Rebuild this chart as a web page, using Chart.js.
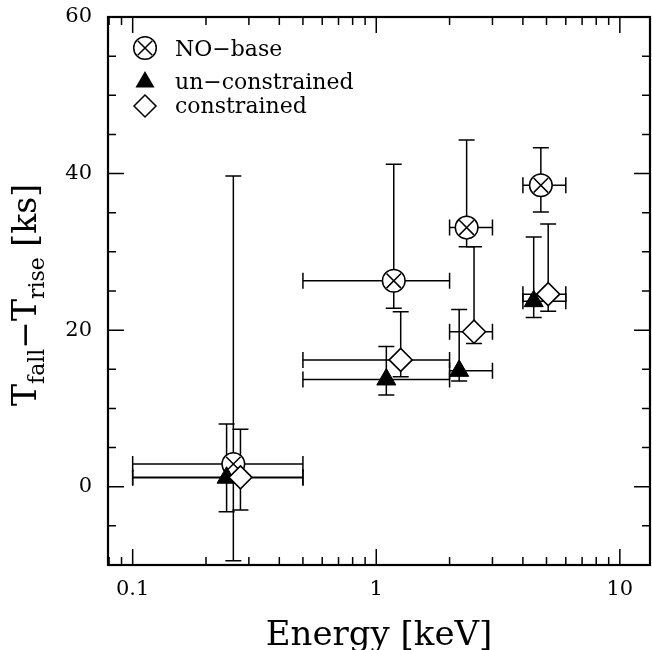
<!DOCTYPE html>
<html><head><meta charset="utf-8">
<script src="https://cdn.jsdelivr.net/npm/chart.js@4"></script>
<style>html,body{margin:0;padding:0;background:#fff}</style>
</head><body>
<canvas id="c" width="652" height="650" style="display:block;width:652px;height:650px"></canvas>
<script>
// ---------------- data ----------------
const seriesNames = ['NO\u2212base', 'un\u2212constrained', 'constrained'];

const energyNoBase = [0.259, 1.18, 2.35, 4.74];
const dtNoBase     = [2.9, 26.3, 33.1, 38.5];
const dtNoBaseHigh = [39.7, 41.2, 44.3, 43.3];
const dtNoBaseLow  = [-9.45, 22.8, 30.65, 35.1];

const energyUncon = [0.243, 1.10, 2.19, 4.43];
const dtUncon     = [1.15, 13.7, 14.8, 23.7];
const dtUnconHigh = [8.0, 17.9, 22.65, 31.9];
const dtUnconLow  = [-3.2, 11.7, 13.5, 21.6];

const energyCon = [0.277, 1.26, 2.52, 5.08];
const dtCon     = [1.2, 16.2, 19.8, 24.6];
const dtConHigh = [7.33, 22.35, 30.65, 33.55];
const dtConLow  = [-2.98, 14.05, 18.3, 22.4];

const bandLow  = [0.1, 0.5, 2.0, 4.0];
const bandHigh = [0.5, 2.0, 3.0, 6.0];

const xTickValues = [0.1, 1, 10];
const yTickValues = [0, 20, 40, 60];
const xTitle = 'Energy [keV]';

// ---------------- helpers ----------------
const SERIF = '"DejaVu Serif", serif';
function pts(e, v, lo, hi) {
  return e.map((x, i) => ({x: x, y: v[i], yMin: lo[i], yMax: hi[i], xMin: bandLow[i], xMax: bandHigh[i]}));
}

// ---------------- plugins ----------------
const errorBars = {
  id: 'errorBars',
  beforeDatasetsDraw(chart) {
    const {ctx} = chart, xs = chart.scales.x, ys = chart.scales.y;
    const cap = 8;
    ctx.save();
    ctx.strokeStyle = '#000';
    ctx.lineWidth = 1.5;
    chart.data.datasets.forEach(ds => {
      if (!ds.errorBars) return;
      ds.data.forEach(p => {
        const px = xs.getPixelForValue(p.x), py = ys.getPixelForValue(p.y);
        const x0 = xs.getPixelForValue(p.xMin), x1 = xs.getPixelForValue(p.xMax);
        const y0 = ys.getPixelForValue(p.yMin), y1 = ys.getPixelForValue(p.yMax);
        ctx.beginPath();
        ctx.moveTo(x0, py); ctx.lineTo(x1, py);
        ctx.moveTo(x0, py - cap); ctx.lineTo(x0, py + cap);
        ctx.moveTo(x1, py - cap); ctx.lineTo(x1, py + cap);
        ctx.moveTo(px, y0); ctx.lineTo(px, y1);
        ctx.moveTo(px - cap, y0); ctx.lineTo(px + cap, y0);
        ctx.moveTo(px - cap, y1); ctx.lineTo(px + cap, y1);
        ctx.stroke();
      });
    });
    ctx.restore();
  }
};

const frame = {
  id: 'frame',
  afterDraw(chart) {
    const {ctx, chartArea: a} = chart, xs = chart.scales.x, ys = chart.scales.y;
    ctx.save();
    ctx.strokeStyle = '#000';
    // ticks
    ctx.lineWidth = 1.5;
    const xMaj = [], xMin = [];
    for (let d = 0.01; d <= 100; d *= 10) {
      for (let k = 1; k <= 9; k++) {
        const v = +(k * d).toPrecision(3);
        if (v < xs.min || v > xs.max) continue;
        (k === 1 ? xMaj : xMin).push(v);
      }
    }
    ctx.beginPath();
    const tk = (v, len) => {
      const p = xs.getPixelForValue(v);
      ctx.moveTo(p, a.bottom); ctx.lineTo(p, a.bottom - len);
      ctx.moveTo(p, a.top); ctx.lineTo(p, a.top + len);
    };
    xMaj.forEach(v => tk(v, 16));
    xMin.forEach(v => tk(v, 8));
    for (let v = -10; v <= 60; v += 5) {
      const p = ys.getPixelForValue(v);
      const len = (v % 20 === 0) ? 16 : 8;
      ctx.moveTo(a.left, p); ctx.lineTo(a.left + len, p);
      ctx.moveTo(a.right, p); ctx.lineTo(a.right - len, p);
    }
    ctx.stroke();
    // frame
    ctx.lineWidth = 2.2;
    ctx.strokeRect(a.left, a.top, a.right - a.left, a.bottom - a.top);

    // x title
    ctx.fillStyle = '#000';
    ctx.font = '34px ' + SERIF;
    ctx.textAlign = 'center';
    ctx.textBaseline = 'alphabetic';
    ctx.fillText(xTitle, (a.left + a.right) / 2, 645);

    // y title with subscripts
    const parts = [
      {t: 'T', s: 33, dy: 0}, {t: 'fall', s: 22, dy: 8},
      {t: '\u2212', s: 33, dy: 0},
      {t: 'T', s: 33, dy: 0}, {t: 'rise', s: 22, dy: 8},
      {t: ' [ks]', s: 33, dy: 0}
    ];
    let total = 0;
    parts.forEach(p => { ctx.font = p.s + 'px ' + SERIF; p.w = ctx.measureText(p.t).width; total += p.w; });
    ctx.translate(36, 295);
    ctx.rotate(-Math.PI / 2);
    ctx.textAlign = 'left';
    let x = -total / 2;
    parts.forEach(p => { ctx.font = p.s + 'px ' + SERIF; ctx.fillText(p.t, x, p.dy); x += p.w; });
    ctx.restore();

    // legend
    ctx.save();
    ctx.fillStyle = '#000'; ctx.strokeStyle = '#000'; ctx.lineWidth = 1.5;
    const lx = 145, tx = 175;
    const rows = [48, 82, 106], base = [56, 89, 113];
    // circle with X
    ctx.beginPath(); ctx.arc(lx, rows[0], 11.3, 0, Math.PI * 2);
    ctx.fillStyle = '#fff'; ctx.fill(); ctx.stroke();
    const d = 7.3;
    ctx.beginPath();
    ctx.moveTo(lx - d, rows[0] - d); ctx.lineTo(lx + d, rows[0] + d);
    ctx.moveTo(lx + d, rows[0] - d); ctx.lineTo(lx - d, rows[0] + d);
    ctx.stroke();
    // triangle
    const r = 11;
    ctx.fillStyle = '#000';
    ctx.beginPath();
    ctx.moveTo(lx, rows[1] - r);
    ctx.lineTo(lx + r * Math.sqrt(3) / 2, rows[1] + r / 2);
    ctx.lineTo(lx - r * Math.sqrt(3) / 2, rows[1] + r / 2);
    ctx.closePath(); ctx.fill();
    // diamond
    ctx.beginPath();
    ctx.moveTo(lx, rows[2] - r); ctx.lineTo(lx + r, rows[2]);
    ctx.lineTo(lx, rows[2] + r); ctx.lineTo(lx - r, rows[2]);
    ctx.closePath(); ctx.fillStyle = '#fff'; ctx.fill(); ctx.stroke();
    ctx.fillStyle = '#000';
    ctx.font = '22px ' + SERIF;
    ctx.textAlign = 'left'; ctx.textBaseline = 'alphabetic';
    seriesNames.forEach((n, i) => ctx.fillText(n, tx, base[i]));
    ctx.restore();
  }
};

// ---------------- chart ----------------
const noBasePts = pts(energyNoBase, dtNoBase, dtNoBaseLow, dtNoBaseHigh);
new Chart(document.getElementById('c'), {
  type: 'scatter',
  data: {
    datasets: [
      {label: seriesNames[0], data: noBasePts, errorBars: true, order: 3,
       pointStyle: 'circle', pointRadius: 11.3, backgroundColor: '#fff', borderColor: '#000', borderWidth: 1.5, showLine: false},
      {label: seriesNames[0] + ' (cross)', data: noBasePts, order: 2,
       pointStyle: 'crossRot', pointRadius: 10.3, backgroundColor: '#000', borderColor: '#000', borderWidth: 1.5, showLine: false},
      {label: seriesNames[1], data: pts(energyUncon, dtUncon, dtUnconLow, dtUnconHigh), errorBars: true, order: 1,
       pointStyle: 'triangle', pointRadius: 11, backgroundColor: '#000', borderColor: '#000', borderWidth: 1, showLine: false},
      {label: seriesNames[2], data: pts(energyCon, dtCon, dtConLow, dtConHigh), errorBars: true, order: 0,
       pointStyle: 'rectRot', pointRadius: 11.5, backgroundColor: '#fff', borderColor: '#000', borderWidth: 1.6, showLine: false}
    ]
  },
  options: {
    responsive: false,
    animation: false,
    devicePixelRatio: 1,
    layout: {autoPadding: false, padding: {left: 0, right: 2, top: 17, bottom: 0}},
    plugins: {legend: {display: false}, tooltip: {enabled: false}},
    scales: {
      x: {
        type: 'logarithmic', min: 0.0792, max: 13.3,
        grid: {display: false, drawTicks: false},
        border: {display: false},
        afterBuildTicks: s => { s.ticks = xTickValues.map(v => ({value: v})); },
        afterFit: s => { s.height = 85; s.paddingLeft = 0; s.paddingRight = 0; },
        ticks: {color: '#000', font: {family: SERIF, size: 21}, padding: 12, maxRotation: 0,
                callback: v => String(v)}
      },
      y: {
        type: 'linear', min: -10, max: 60,
        grid: {display: false, drawTicks: false},
        border: {display: false},
        afterBuildTicks: s => { s.ticks = yTickValues.map(v => ({value: v})); },
        afterFit: s => { s.width = 108; s.paddingTop = 0; s.paddingBottom = 0; },
        ticks: {color: '#000', font: {family: SERIF, size: 21}, padding: 16}
      }
    }
  },
  plugins: [errorBars, frame]
});
</script>
</body></html>
